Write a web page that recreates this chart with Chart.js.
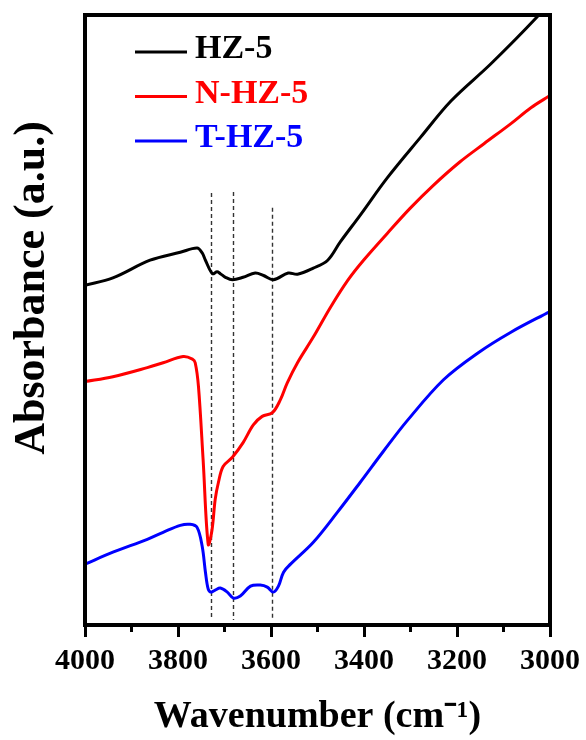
<!DOCTYPE html>
<html><head><meta charset="utf-8">
<script src="https://cdn.jsdelivr.net/npm/chart.js@4"></script>
<style>html,body{margin:0;padding:0;background:#fff;} #wrap{width:586px;height:740px;}</style>
</head><body><div id="wrap"><canvas id="c" width="586" height="740"></canvas></div>
<script>
const seriesNames = ['HZ-5', 'N-HZ-5', 'T-HZ-5'];
const seriesColors = ['#000000', '#ff0000', '#0000ff'];

const hz5X = [4000,3940,3860,3795,3759,3748,3741,3726,3716,3709,3698,3683,3660,3634,3616,3595,3563,3543,3509,3478,3451,3408,3350,3279,3213,3127,3030,3000];
const hz5Y = [55.7,56.9,59.8,61.1,61.8,61.0,59.8,57.6,57.9,57.6,57.0,56.6,57.0,57.7,57.3,56.6,57.7,57.5,58.5,59.8,62.8,67.2,73.3,79.9,85.9,92.0,99.5,102.3];

const nhz5X = [4000,3940,3866,3832,3789,3769,3763,3756,3746,3735,3727,3720,3713,3703,3683,3660,3638,3619,3597,3580,3565,3543,3509,3472,3435,3401,3350,3301,3252,3194,3142,3084,3041,3000];
const nhz5Y = [39.9,40.7,42.2,43.0,44.0,43.6,43.0,39.1,27.1,13.2,15.5,20.6,23.4,26.0,27.5,29.9,32.8,34.2,34.8,36.9,39.7,43.0,47.2,52.1,56.5,59.8,64.2,68.3,72.0,75.9,78.9,82.2,84.8,86.8];

const thz5X = [4000,3940,3866,3832,3795,3774,3759,3748,3741,3735,3729,3720,3709,3694,3681,3666,3644,3623,3608,3595,3584,3573,3558,3509,3457,3408,3359,3307,3229,3155,3084,3000];
const thz5Y = [9.97,11.93,14.05,15.2,16.34,16.5,16.0,12.9,8.66,5.88,5.39,5.72,6.05,5.39,4.41,4.74,6.37,6.54,6.21,5.39,6.37,8.66,9.97,13.56,18.5,23.4,28.4,33.5,40.2,44.6,48.0,51.4];

const xTicks = [4000, 3800, 3600, 3400, 3200, 3000];
const minorTicks = [3900, 3700, 3500, 3300, 3100];
const markerWavenumbers = [3730, 3681, 3598];
const markerTops = [70.8, 71.0, 68.4];
const markerBottom = 0.8;
const xTitle = 'Wavenumber (cm\u207B\u00B9)';
const yTitle = 'Absorbance (a.u.)';

const FONT = '"Liberation Serif", "Times New Roman", serif';

function pts(xs, ys) { return xs.map((x, i) => ({ x: x, y: ys[i] })); }

const seriesX = [hz5X, nhz5X, thz5X];
const seriesY = [hz5Y, nhz5Y, thz5Y];

const decor = {
  id: 'decor',
  beforeDatasetsDraw(chart) {
    const ctx = chart.ctx, xs = chart.scales.x, ys = chart.scales.y;
    ctx.save();
    ctx.strokeStyle = '#333';
    ctx.lineWidth = 1.4;
    ctx.setLineDash([4, 3]);
    markerWavenumbers.forEach((w, i) => {
      const x = Math.round(xs.getPixelForValue(w)) + 0.5;
      ctx.beginPath();
      ctx.moveTo(x, ys.getPixelForValue(markerTops[i]));
      ctx.lineTo(x, ys.getPixelForValue(markerBottom));
      ctx.stroke();
    });
    ctx.restore();
  },
  afterDraw(chart) {
    const ctx = chart.ctx, a = chart.chartArea, xs = chart.scales.x;
    ctx.save();
    ctx.strokeStyle = '#000';
    ctx.lineWidth = 4;
    ctx.setLineDash([]);
    ctx.strokeRect(a.left, a.top, a.right - a.left, a.bottom - a.top);
    ctx.lineWidth = 3;
    minorTicks.forEach(v => {
      const x = xs.getPixelForValue(v);
      ctx.beginPath();
      ctx.moveTo(x, a.bottom);
      ctx.lineTo(x, a.bottom + 7);
      ctx.stroke();
    });
    ctx.font = 'bold 34px ' + FONT;
    ctx.textAlign = 'left';
    ctx.textBaseline = 'alphabetic';
    seriesNames.forEach((name, i) => {
      const base = 58 + i * 44.5;
      ctx.strokeStyle = seriesColors[i];
      ctx.lineWidth = 3;
      ctx.beginPath();
      ctx.moveTo(135, base - 6);
      ctx.lineTo(187, base - 6);
      ctx.stroke();
      ctx.fillStyle = seriesColors[i];
      ctx.fillText(name, 195, base);
    });
    ctx.fillStyle = '#000';
    ctx.font = 'bold 44px ' + FONT;
    ctx.translate(44, 288);
    ctx.rotate(-Math.PI / 2);
    ctx.textAlign = 'center';
    ctx.fillText(yTitle, 0, 0);
    ctx.restore();
  }
};

new Chart(document.getElementById('c'), {
  type: 'line',
  data: {
    datasets: seriesNames.map((n, i) => ({
      label: n,
      data: pts(seriesX[i], seriesY[i]),
      borderColor: seriesColors[i],
      backgroundColor: seriesColors[i],
      borderWidth: 3,
      pointRadius: 0,
      fill: false,
      tension: 0.35
    }))
  },
  options: {
    responsive: false,
    animation: false,
    layout: { padding: { left: 85, right: 36, top: 15, bottom: 0 } },
    plugins: { legend: { display: false }, tooltip: { enabled: false } },
    scales: {
      x: {
        type: 'linear', reverse: true, min: 3000, max: 4000,
        afterBuildTicks: s => { s.ticks = xTicks.map(v => ({ value: v })); },
        afterFit: s => { s.height = 115; },
        grid: { drawOnChartArea: false, drawTicks: true, tickLength: 12, lineWidth: 3, color: '#000' },
        border: { display: false },
        ticks: { font: { family: FONT, size: 30, weight: 'bold' }, color: '#000', padding: 6, maxRotation: 0, autoSkip: false, callback: v => String(v) },
        title: { display: true, text: xTitle, font: { family: FONT, size: 38, weight: 'bold' }, color: '#000', padding: 0 }
      },
      y: { display: false, min: 0, max: 100 }
    }
  },
  plugins: [decor]
});
</script>
</body></html>
